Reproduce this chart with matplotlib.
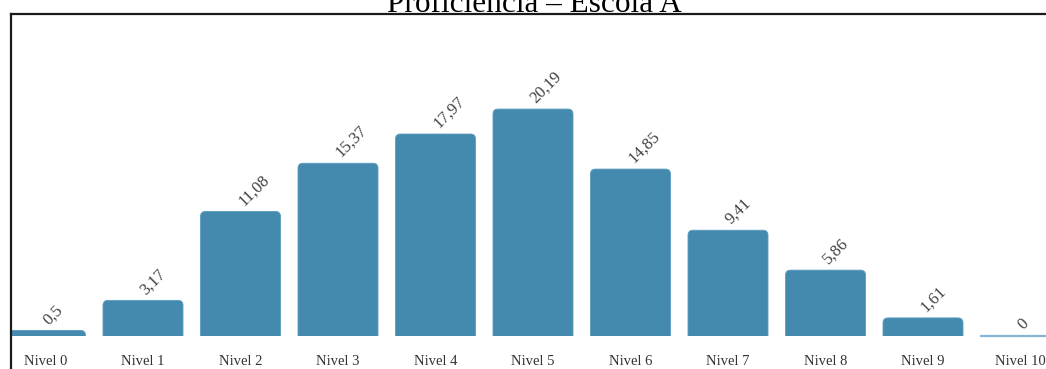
import matplotlib
matplotlib.use('Agg')
import matplotlib.pyplot as plt
from matplotlib.patches import FancyBboxPatch
from matplotlib.lines import Line2D

# dados da proficiência (percentual por nível)
niveis = ['Nivel 0', 'Nivel 1', 'Nivel 2', 'Nivel 3', 'Nivel 4', 'Nivel 5',
          'Nivel 6', 'Nivel 7', 'Nivel 8', 'Nivel 9', 'Nivel 10']
percentuais = [0.5, 3.17, 11.08, 15.37, 17.97, 20.19, 14.85, 9.41, 5.86, 1.61, 0]
rotulos = ['0,5', '3,17', '11,08', '15,37', '17,97', '20,19', '14,85', '9,41', '5,86', '1,61', '0']

W, H = 1046, 369
cor = '#448aaf'
serif = ['Liberation Serif', 'DejaVu Serif']

fig = plt.figure(figsize=(W / 100, H / 100), dpi=100)
# eixos: começa na borda do quadro (x=12px), base das barras em y=336px
ax = fig.add_axes([12 / W, 33 / H, (W - 12) / W, (H - 14 - 33) / H])
px_x = 97.5   # pixels por nível
px_y = 11.24  # pixels por ponto percentual
ax.set_xlim((12 - 45.5) / px_x, (W - 45.5) / px_x)
ax.set_ylim(0, (H - 14 - 33) / px_y)
for s in ax.spines.values():
    s.set_visible(False)
ax.set_yticks([])

x = list(range(len(niveis)))
largura = 80 / px_x
barras = ax.bar(x, percentuais, width=largura, color=cor, alpha=0)
for b, v in zip(barras, percentuais):
    if v > 0:
        r = 5 / px_x
        p = FancyBboxPatch((b.get_x(), -1), b.get_width(), v + 1,
                           boxstyle=f'round,pad=0,rounding_size={r}',
                           mutation_aspect=px_x / px_y,
                           facecolor=cor, edgecolor='#5a9bc0', linewidth=0.6)
        ax.add_patch(p)
    else:
        ax.hlines(v, b.get_x(), b.get_x() + b.get_width(), color='#86b6d6', lw=1.6,
                  clip_on=False)

for xi, v, t in zip(x, percentuais, rotulos):
    ax.annotate(t, (xi, v), xytext=(0, 6), textcoords='offset points',
                rotation=45, rotation_mode='anchor', ha='left', va='center',
                fontsize=12, color='#404040', family=serif)

ax.set_xticks(x)
ax.set_xticklabels(niveis, family=serif, fontsize=10.5, color='#333333')
ax.tick_params(axis='x', length=0, pad=14)

# quadro
fig.add_artist(Line2D([10.5 / W, 10.5 / W], [0, 1 - 13.5 / H], color='#1a1a1a', lw=1.6))
fig.add_artist(Line2D([10.5 / W, 1], [1 - 13.5 / H, 1 - 13.5 / H], color='#1a1a1a', lw=1.6))

fig.text(534 / W, 1 - 12 / H, 'Proficiência – Escola A', ha='center', va='baseline',
         fontsize=22.5, family=serif, color='black')

fig.savefig('out.png', dpi=100)
